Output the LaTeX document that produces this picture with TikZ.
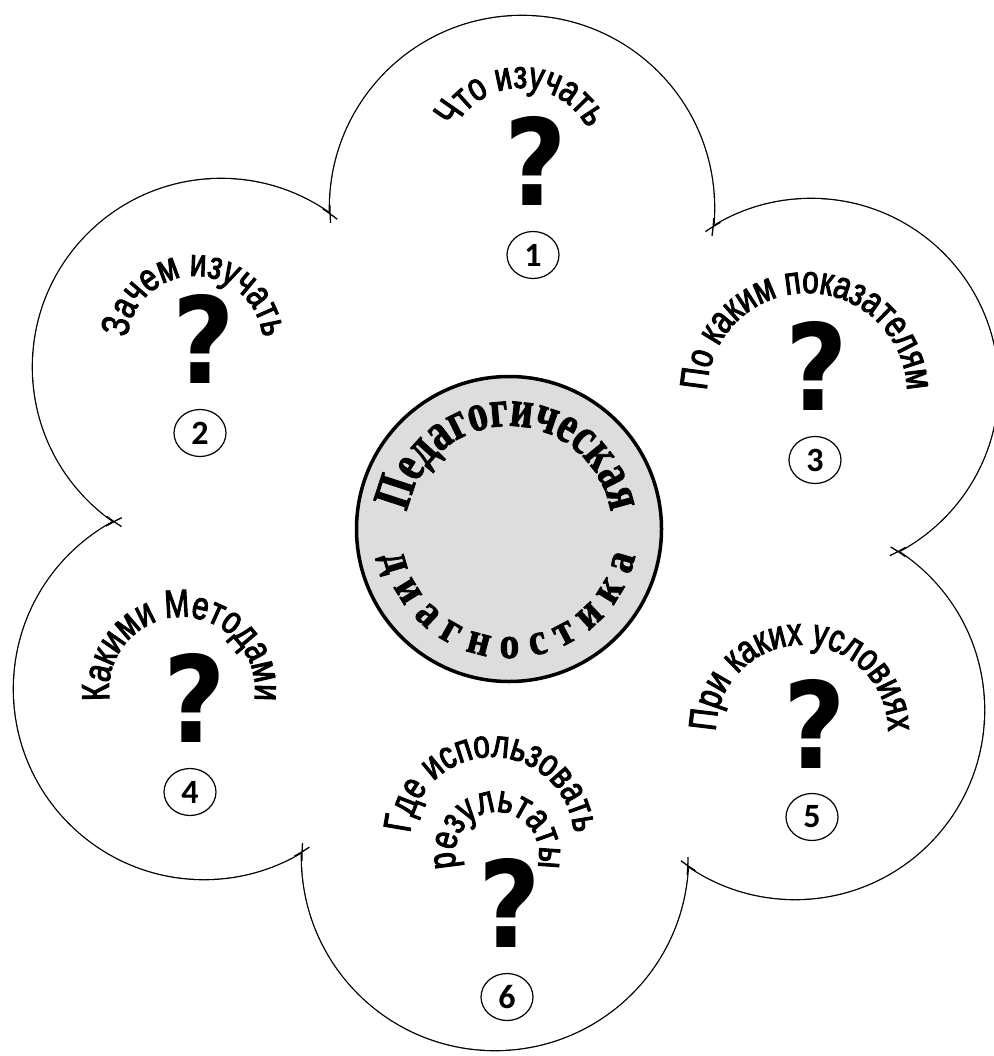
\documentclass[tikz,border=0pt]{standalone}
\usepackage{fontspec}
\usetikzlibrary{decorations.text,shapes.geometric}
\newfontfamily\petalfont[FakeStretch=0.76,FakeBold=2.5]{Liberation Sans}
\newfontfamily\qfont[FakeStretch=0.9]{DejaVu Sans}
\newfontfamily\numfont{Carlito}
\newfontfamily\centerfont[FakeStretch=0.75,FakeBold=1.5]{Liberation Serif}
\newfontfamily\centerfontb[FakeStretch=0.88,FakeBold=1.5]{Liberation Serif}
\definecolor{centergray}{RGB}{221,221,221}
\newcommand\ArcText[5]{%
  \path[decorate,decoration={text along path,text align=center,
    text={|\petalfont\fontsize{#4}{#4}\selectfont|#5}}]
    ([shift={(210:#3)}]#1,#2) arc[start angle=210,end angle=-30,radius=#3];}
\begin{document}
\begin{tikzpicture}[x=1pt,y=1pt,
  qmark/.style={inner sep=0pt,font=\qfont\bfseries\fontsize{120}{120}\selectfont},
  numcirc/.style={ellipse,draw,line width=1.2pt,minimum width=52pt,minimum height=47pt,inner sep=0pt,
    font=\numfont\bfseries\fontsize{34}{34}\selectfont},
  hub/.style={circle,draw,line width=3.5pt,fill=centergray,minimum size=305pt,inner sep=0pt}]
\useasboundingbox[fill=white] (0,0) rectangle (993,-1056);
% petals
\foreach \x/\y/\r in {522/208/192,221/367/188,811/386/187,204/689/190,795/710/189,495/857/193}
  \draw[line width=2.6pt] (\x,-\y) circle[radius=\r];
\foreach \x/\y/\r in {522/208/192,221/367/188,811/386/187,204/689/190,795/710/189,495/857/193}
  \fill[white] (\x,-\y) circle[radius=\r];
\fill[white] (508,-536) circle[radius=330];
% small crossings where the petals meet
\foreach \nx/\ny/\ax/\ay/\ar/\bx/\by/\br in {
  330/214/522/208/192/221/367/188,
  713/227/522/208/192/811/386/187,
  898/552/811/386/187/795/710/189,
  688/866/795/710/189/495/857/193,
  302/852/495/857/193/204/689/190,
  114/522/204/689/190/221/367/188}{
  \begin{scope}
    \clip (\nx,-\ny) circle[radius=9];
    \draw[line width=1.3pt] (\ax,-\ay) circle[radius=\ar] (\bx,-\by) circle[radius=\br];
  \end{scope}}
% centre
\node[hub] (hub) at (509,-529) {};
\path[decorate,decoration={text along path,text align=center,
  text={|\centerfont\bfseries\fontsize{53}{53}\selectfont|Педагогическая}}]
  ([shift={(180:103)}]hub.center) arc[start angle=180,end angle=0,radius=103];
\path[decorate,decoration={text along path,text align={fit to path},
  text={|\centerfontb\bfseries\fontsize{45}{45}\selectfont|диагностика}}]
  ([shift={(192:129)}]hub.center) arc[start angle=192,end angle=348,radius=129];
% petal texts
\ArcText{521}{-163}{75}{39}{Что изучать}
\ArcText{195}{-344}{68}{39}{Зачем изучать}
\ArcText{807}{-393}{100}{39}{По каким показателям}
\ArcText{182}{-690}{73}{39}{Какими Методами}
\ArcText{802}{-731}{86}{39}{При каких условиях}
\ArcText{492}{-839}{82}{39}{Где использовать}
\ArcText{497}{-854}{42}{39}{результаты}
% question marks
\node[qmark] (q1) at (536,-161) {?};
\node[qmark] (q2) at (204,-339) {?};
\node[qmark] (q3) at (817,-366) {?};
\node[qmark] (q4) at (195,-698) {?};
\node[qmark] (q5) at (815,-724) {?};
\node[qmark] (q6) at (510,-903) {?};
% numbers
\node[numcirc] (n1) at (533,-255) {1};
\node[numcirc] (n2) at (200,-433) {2};
\node[numcirc] (n3) at (815,-460) {3};
\node[numcirc] (n4) at (190,-792) {4};
\node[numcirc] (n5) at (812,-817) {5};
\node[numcirc] (n6) at (507,-997) {6};
\end{tikzpicture}
\end{document}
